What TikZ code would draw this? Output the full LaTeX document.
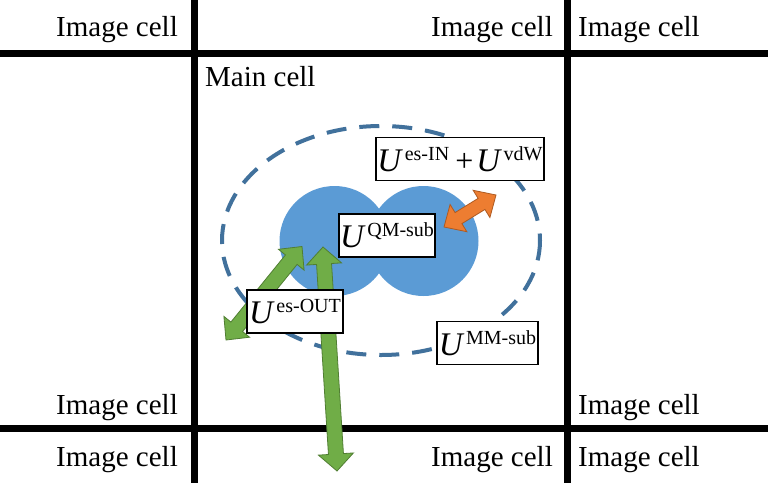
\documentclass[tikz,border=0pt]{standalone}
\usepackage{fontspec}
\setmainfont{Liberation Serif}
\newfontfamily\tnrfont{Liberation Serif}
\usetikzlibrary{calc}
\definecolor{gridk}{RGB}{0,0,0}
\definecolor{dashblue}{RGB}{65,113,156}
\definecolor{qmblue}{RGB}{91,155,213}
\definecolor{grfill}{RGB}{112,173,71}
\definecolor{grline}{RGB}{80,126,50}
\definecolor{orfill}{RGB}{237,125,49}
\definecolor{orline}{RGB}{174,90,33}
\newcommand{\cellfont}{\tnrfont\fontsize{29}{34}\selectfont}
\newcommand{\Ubig}{{\tnrfont\fontsize{33}{33}\selectfont\itshape U}}
\newcommand{\supr}[1]{\hspace{3.5pt}\raisebox{11pt}{\tnrfont\fontsize{20}{20}\selectfont #1}}
% block double arrow: #1 style, #2 #3 end coordinates, #4 shaft half width, #5 head half width, #6 head length
\newcommand{\blockdbl}[6]{%
  \coordinate (#2-hb) at ($(#2)!#6!(#3)$);
  \coordinate (#3-hb) at ($(#3)!#6!(#2)$);
  \filldraw[#1] (#2) -- ($(#2-hb)!#5!90:(#3)$) -- ($(#2-hb)!#4!90:(#3)$)
    -- ($(#3-hb)!#4!-90:(#2)$) -- ($(#3-hb)!#5!-90:(#2)$) -- (#3)
    -- ($(#3-hb)!#5!90:(#2)$) -- ($(#3-hb)!#4!90:(#2)$)
    -- ($(#2-hb)!#4!-90:(#3)$) -- ($(#2-hb)!#5!-90:(#3)$) -- cycle;}
\tikzset{
  gridline/.style={line width=7pt, draw=gridk},
  celltext/.style={font=\cellfont, inner sep=0pt},
  lbl/.style={draw=black, fill=white, line width=1.5pt, inner sep=0pt, minimum height=43pt},
  greenarrow/.style={fill=grfill, draw=grline, line width=0.8pt, line join=miter},
  orangearrow/.style={fill=orfill, draw=orline, line width=0.8pt, line join=miter},
}
\begin{document}
\begin{tikzpicture}[x=1pt,y=-1pt]
\fill[white] (0,0) rectangle (768,483);
\useasboundingbox (0,0) rectangle (768,483);
% grid
\draw[gridline] (194,0) -- (194,483);
\draw[gridline] (567,0) -- (567,483);
\draw[gridline] (0,53) -- (768,53);
\draw[gridline] (0,428) -- (768,428);
% cell texts
\node[celltext, anchor=base east] (c1) at (178,36) {Image cell};
\node[celltext, anchor=base east] (c2) at (553,36) {Image cell};
\node[celltext, anchor=base west] (c3) at (578,36) {Image cell};
\node[celltext, anchor=base east] (c4) at (178,414) {Image cell};
\node[celltext, anchor=base west] (c5) at (578,414) {Image cell};
\node[celltext, anchor=base east] (c6) at (178,466) {Image cell};
\node[celltext, anchor=base east] (c7) at (553,466) {Image cell};
\node[celltext, anchor=base west] (c8) at (578,466) {Image cell};
\node[celltext, anchor=base west] (mc) at (205,86) {Main cell};
% MM region
\draw[dashblue, line width=4pt, dash pattern=on 20pt off 13pt] (381,240.5) ellipse [x radius=159, y radius=114.5];
% QM region
\fill[qmblue] (334.5,241) circle [radius=55];
\fill[qmblue] (423.5,241) circle [radius=55];
% arrows
\coordinate (oa) at (444,227);
\coordinate (ob) at (496,195);
\coordinate (ga) at (226,340);
\coordinate (gb) at (302,246.5);
\coordinate (va) at (323,247);
\coordinate (vb) at (337,471);
\blockdbl{orangearrow}{oa}{ob}{6.5pt}{16pt}{17pt}
\blockdbl{greenarrow}{ga}{gb}{7.5pt}{16.5pt}{17pt}
\blockdbl{greenarrow}{va}{vb}{7.5pt}{17.5pt}{17pt}
% labels
\node[lbl, minimum width=168pt] (esin) at (460,159) {\Ubig\supr{es-IN}\hspace{6pt}{\tnrfont\fontsize{32}{32}\selectfont +}\hspace{3pt}\Ubig\supr{vdW}};
\node[lbl, minimum width=96pt] (qm) at (387,235.5) {\Ubig\supr{QM-sub}};
\node[lbl, minimum width=96pt] (esout) at (295,311.5) {\Ubig\supr{es-OUT}};
\node[lbl, minimum width=101pt] (mm) at (487.5,343) {\Ubig\supr{MM-sub}};
\end{tikzpicture}
\end{document}
